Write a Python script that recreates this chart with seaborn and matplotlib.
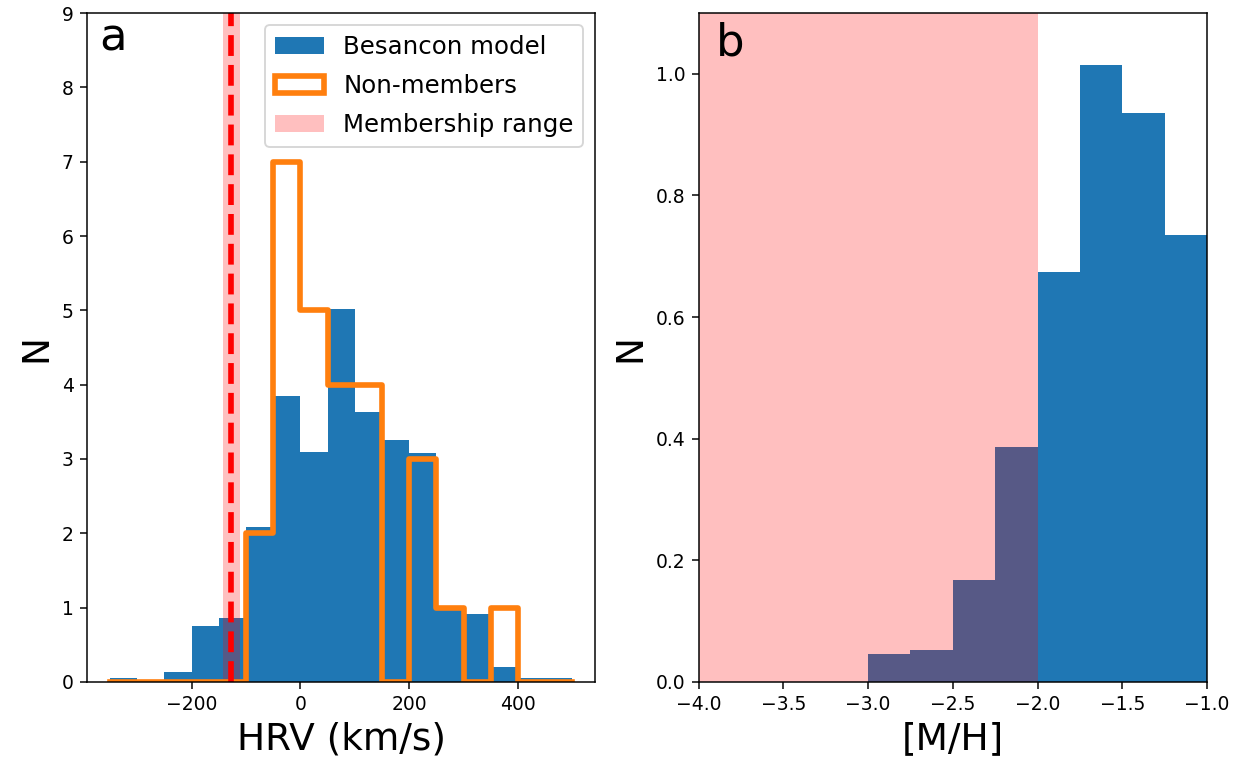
import numpy as np
import seaborn as sns
import matplotlib
matplotlib.use("Agg")
import matplotlib.pyplot as plt
from matplotlib.patches import Patch

# panel a: HRV histograms (bins of 50 km/s)
hrv_bins = [-350, -300, -250, -200, -150, -100, -50, 0, 50, 100, 150,
            200, 250, 300, 350, 400, 450, 500]
besancon_hrv = [0.06, 0.02, 0.14, 0.75, 0.86, 2.09, 3.85, 3.09, 5.02,
                3.63, 3.26, 3.08, 0.97, 0.92, 0.20, 0.06, 0.06]
nonmember_hrv = [0, 0, 0, 0, 0, 2, 7, 5, 4, 4, 0, 3, 1, 0, 1, 0, 0]
hrv_member_lo, hrv_member_hi = -142, -112
hrv_mean = -127

# panel b: [M/H] histogram
mh_bins = [-3.0, -2.75, -2.5, -2.25, -2.0, -1.75, -1.5, -1.25, -1.0]
besancon_mh = [0.046, 0.053, 0.168, 0.387, 0.674, 1.015, 0.936, 0.735]
mh_member_lo, mh_member_hi = -4.0, -2.0

blue = "#1f77b4"
orange = "#ff7f0e"

hrv_centers = 0.5 * (np.array(hrv_bins[:-1]) + np.array(hrv_bins[1:]))
mh_centers = 0.5 * (np.array(mh_bins[:-1]) + np.array(mh_bins[1:]))

fig, (ax1, ax2) = plt.subplots(1, 2, figsize=(1239 / 135, 765 / 135), dpi=135)
fig.subplots_adjust(left=0.0702, right=0.9742, bottom=0.1085, top=0.983, wspace=0.2026)

# left panel
sns.histplot(x=hrv_centers, weights=besancon_hrv, bins=hrv_bins, color=blue,
             alpha=1, linewidth=0, ax=ax1)
sns.histplot(x=hrv_centers, weights=nonmember_hrv, bins=hrv_bins, element="step",
             fill=False, color=orange, linewidth=3, ax=ax1)
ax1.axvspan(hrv_member_lo, hrv_member_hi, color="red", alpha=0.25, lw=0)
ax1.axvline(hrv_mean, color="red", ls="--", lw=3)
ax1.set_xlim(-392.5, 542.5)
ax1.set_ylim(0, 9)
ax1.set_xlabel("HRV (km/s)", fontsize=20)
ax1.set_ylabel("N", fontsize=20)
ax1.text(-370, 8.5, "a", fontsize=24)
handles = [Patch(facecolor=blue, label="Besancon model"),
           Patch(facecolor="none", edgecolor=orange, linewidth=3, label="Non-members"),
           Patch(facecolor="red", alpha=0.25, label="Membership range")]
ax1.legend(handles=handles, loc="upper right", fontsize=13, labelspacing=0.62)

# right panel
sns.histplot(x=mh_centers, weights=besancon_mh, bins=mh_bins, color=blue,
             alpha=1, linewidth=0, ax=ax2)
ax2.axvspan(mh_member_lo, mh_member_hi, color="red", alpha=0.25, lw=0)
ax2.set_xlim(-4, -1)
ax2.set_ylim(0, 1.1)
ax2.set_xlabel("[M/H]", fontsize=20)
ax2.set_ylabel("N", fontsize=20)
ax2.text(-3.9, 1.03, "b", fontsize=24)

fig.savefig("out.png", dpi=135)
